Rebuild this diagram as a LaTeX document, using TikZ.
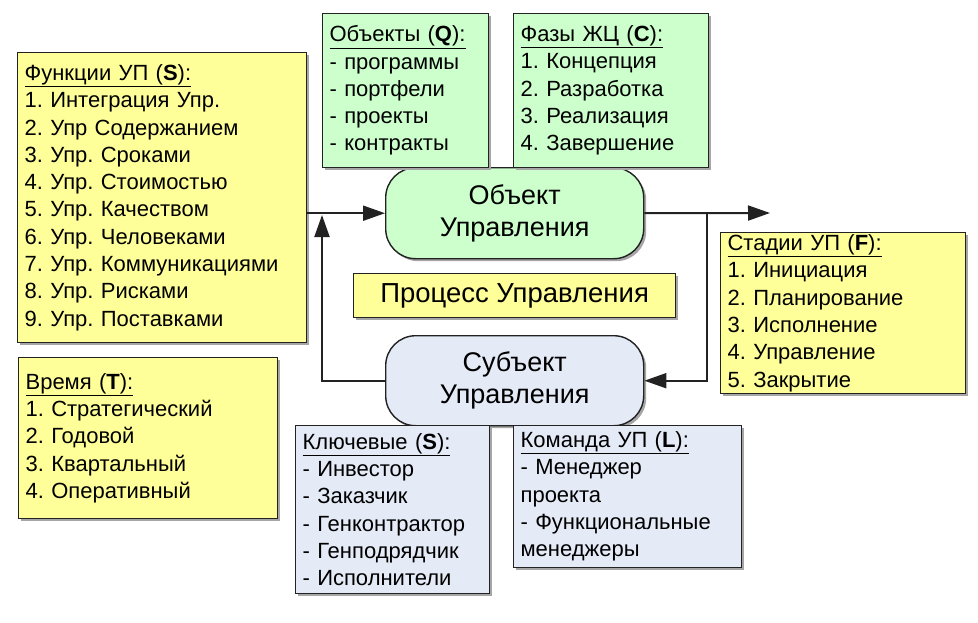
\documentclass[tikz,border=0pt]{standalone}
\usepackage{fontspec}
\setmainfont{Liberation Sans}
\usetikzlibrary{arrows.meta,shadows}
\definecolor{yel}{HTML}{FFFF99}
\definecolor{grn}{HTML}{CCFFCC}
\definecolor{blu}{HTML}{E4EAF6}
\definecolor{edge}{HTML}{222222}
\begin{document}
\frenchspacing
\begin{tikzpicture}[x=1pt,y=-1pt,
  shad/.style={drop shadow={shadow xshift=2.5pt,shadow yshift=-2.5pt,fill=black!35,opacity=1}},
  listbox/.style={draw=edge, line width=1.2pt, anchor=north west, align=left,
    inner xsep=7pt, inner ysep=0pt, font=\fontsize{22}{27.3}\selectfont, shad},
  mainnode/.style={draw=edge, line width=1.4pt, rounded corners=30pt, anchor=north west,
    minimum width=258pt, align=center, font=\fontsize{27}{32}\selectfont, shad},
  arr/.style={draw=edge, line width=2pt, -{Triangle[length=22pt,width=15pt]}},
  ln/.style={draw=edge, line width=2pt}]
\useasboundingbox (0,0) rectangle (978,622);
\fill[white] (0,0) rectangle (978,622);

% central nodes
\node[mainnode, fill=grn, minimum height=91pt] (obj) at (385,167) {Объект\\Управления};
\node[mainnode, fill=blu, minimum height=90pt] (sub) at (385,335) {Субъект\\Управления};
\node[listbox, fill=yel, minimum width=322pt, minimum height=44pt, align=center,
  font=\fontsize{27.5}{30}\selectfont] (proc) at (353,273) {Процесс Управления};

% boxes
\node[listbox, fill=yel, text width=275pt, minimum height=290pt] (fun) at (17,52)
 {\underline{Функции УП (\textbf{S}):}\\
  1. Интеграция Упр.\\
  2. Упр Содержанием\\
  3. Упр. Сроками\\
  4. Упр. Стоимостью\\
  5. Упр. Качеством\\
  6. Упр. Человеками\\
  7. Упр. Коммуникациями\\
  8. Упр. Рисками\\
  9. Упр. Поставками};

\node[listbox, fill=grn, text width=152pt, minimum height=154pt] (objs) at (322,13)
 {\underline{Объекты (\textbf{Q}):}\\
  - программы\\
  - портфели\\
  - проекты\\
  - контракты};

\node[listbox, fill=grn, text width=181pt, minimum height=154pt] (phase) at (513,13)
 {\underline{Фазы ЖЦ (\textbf{C}):}\\
  1. Концепция\\
  2. Разработка\\
  3. Реализация\\
  4. Завершение};

\node[listbox, fill=yel, text width=231pt, minimum height=161pt] (stage) at (720,232)
 {\underline{Стадии УП (\textbf{F}):}\\
  1. Инициация\\
  2. Планирование\\
  3. Исполнение\\
  4. Управление\\
  5. Закрытие};

\node[listbox, fill=yel, text width=245pt, minimum height=161pt] (time) at (18,357)
 {\underline{Время (\textbf{T}):}\\
  1. Стратегический\\
  2. Годовой\\
  3. Квартальный\\
  4. Оперативный};

\node[listbox, fill=blu, text width=180pt, minimum height=168pt] (key) at (295,425)
 {\underline{Ключевые (\textbf{S}):}\\
  - Инвестор\\
  - Заказчик\\
  - Генконтрактор\\
  - Генподрядчик\\
  - Исполнители};

\node[listbox, fill=blu, text width=214pt, minimum height=142pt] (team) at (513,425)
 {\underline{Команда УП (\textbf{L}):}\\
  - Менеджер\\
  проекта\\
  - Функциональные\\
  менеджеры};

% connectors
\coordinate (jl) at (322,215);
\coordinate (jr) at (707,213);
\coordinate (out) at (770,213);
\draw[arr] (fun.east |- obj.west) -- (obj.west);
\draw[arr] (sub.west) -| (jl);
\draw[arr] (obj.east) -- (out);
\draw[arr] (jr) |- (sub.east);
\end{tikzpicture}
\end{document}
